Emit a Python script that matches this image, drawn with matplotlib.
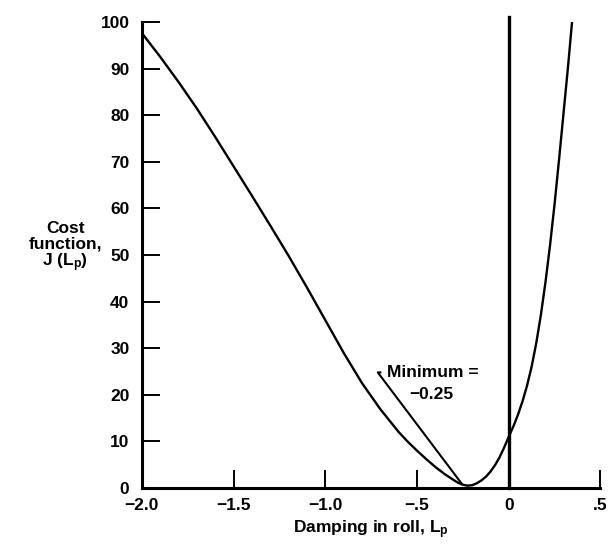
import matplotlib
matplotlib.use('Agg')
import matplotlib.pyplot as plt

plt.rcParams['font.family'] = ['Liberation Sans', 'DejaVu Sans']
plt.rcParams['font.weight'] = 'bold'
plt.rcParams['mathtext.fontset'] = 'custom'
plt.rcParams['mathtext.rm'] = 'Liberation Sans:bold'
plt.rcParams['mathtext.it'] = 'Liberation Sans:bold'
plt.rcParams['mathtext.bf'] = 'Liberation Sans:bold'

# cost function J(Lp)
lp = [-2.0, -1.9, -1.8, -1.7, -1.6, -1.5, -1.4, -1.3, -1.2, -1.1, -1.0,
      -0.9, -0.8, -0.7, -0.6, -0.55, -0.5, -0.45, -0.4, -0.35, -0.3,
      -0.275, -0.25, -0.225, -0.2, -0.175, -0.15, -0.125, -0.1, -0.075,
      -0.05, -0.025, 0.0, 0.025, 0.05, 0.075, 0.1, 0.125, 0.15, 0.175,
      0.2, 0.225, 0.25, 0.275, 0.3, 0.325, 0.345]
cost = [97.6, 92.5, 87.1, 81.4, 75.3, 69.0, 62.7, 56.3, 49.8, 43.0, 36.0,
        29.0, 22.5, 16.9, 12.0, 9.9, 8.0, 6.2, 4.5, 3.0, 1.7,
        1.1, 0.7, 0.5, 0.6, 1.0, 1.6, 2.4, 3.5, 4.9,
        6.6, 8.7, 11.0, 13.2, 15.7, 18.6, 22.0, 26.1, 31.1, 37.1,
        44.1, 52.1, 61.0, 70.8, 81.0, 91.2, 100.0]

xticks = [-2.0, -1.5, -1.0, -0.5, 0.0, 0.5]
xticklabels = ['\u22122.0', '\u22121.5', '\u22121.0', '\u2212.5', '0', '.5']
yticks = [0, 10, 20, 30, 40, 50, 60, 70, 80, 90, 100]

minimum = -0.25
leader_x = [-0.700, -0.714, -0.256]
leader_y = [24.8, 24.8, 0.9]

fig = plt.figure(figsize=(6.09, 5.48), dpi=100)
ax = fig.add_axes([0.233, 0.1095, 0.753, 0.8505])

ax.plot(lp, cost, color='black', lw=1.7, solid_joinstyle='round')
ax.plot([0, 0], [0, 101], color='black', lw=2.4, clip_on=False)
ax.plot(leader_x, leader_y, color='black', lw=1.5)

ax.text(-0.665, 24.7, 'Minimum =', fontsize=12.5, fontweight='bold',
        ha='left', va='center')
ax.text(-0.42, 20.0, '\u22120.25', fontsize=12.5, fontweight='bold',
        ha='center', va='center')

ax.set_xlim(-2.0, 0.5)
ax.set_ylim(0, 100)
ax.set_xticks(xticks)
ax.set_xticklabels(xticklabels)
ax.set_yticks(yticks)

for s in ['top', 'right']:
    ax.spines[s].set_visible(False)
for s in ['left', 'bottom']:
    ax.spines[s].set_linewidth(2.2)

ax.tick_params(direction='in', length=13, width=1.4, labelsize=12.5, pad=7)
ax.tick_params(axis='y', pad=9)

ax.set_xlabel('Damping in roll, L$_{p}$', fontsize=12.5, fontweight='bold',
              labelpad=4)
fig.text(0.107, 0.548, 'Cost\nfunction,\nJ (L$_{p}$)', fontsize=12.5,
         fontweight='bold', ha='center', va='center', linespacing=1.0)

fig.savefig('out.png', dpi=100)
